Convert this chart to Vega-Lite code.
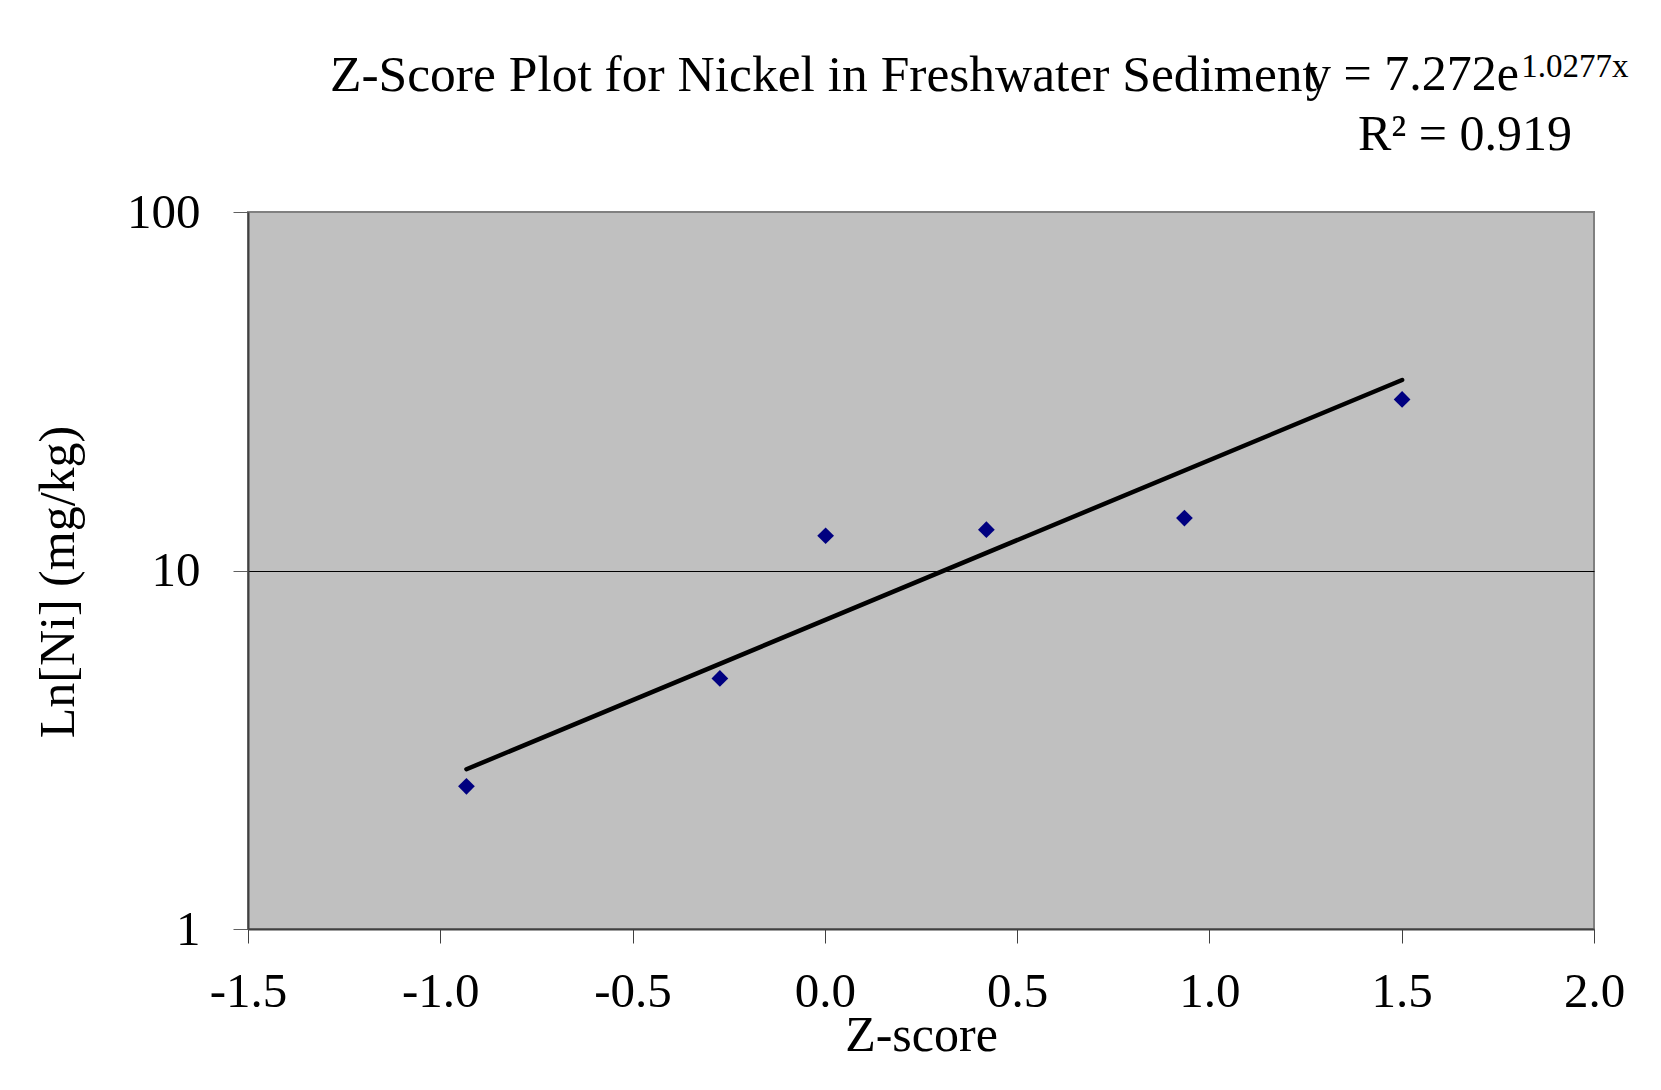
{
  "$schema": "https://vega.github.io/schema/vega-lite/v6.json",
  "width": 1346,
  "height": 717,
  "autosize": {"type": "none"},
  "padding": {"left": 248, "top": 212, "right": 67, "bottom": 161},
  "background": "white",
  "title": {
    "text": "Z-Score Plot for Nickel in Freshwater Sediment",
    "anchor": "start",
    "frame": "group",
    "dx": 82,
    "offset": -92,
    "baseline": "alphabetic",
    "font": "Liberation Serif",
    "fontSize": 51.5,
    "fontWeight": "normal",
    "color": "black"
  },
  "datasets": {
    "points": [
      {"z": -0.932, "ni": 2.5},
      {"z": -0.273, "ni": 5.0},
      {"z": 0.002, "ni": 12.5},
      {"z": 0.42, "ni": 13.0},
      {"z": 0.935, "ni": 14.0},
      {"z": 1.501, "ni": 30.0}
    ],
    "trend": [
      {"z": -0.932, "ni": 2.79},
      {"z": 1.501, "ni": 34.0}
    ]
  },
  "layer": [
    {
      "data": {"name": "trend"},
      "mark": {"type": "line", "color": "black", "strokeWidth": 4.5, "strokeCap": "round"},
      "encoding": {
        "x": {
          "field": "z",
          "type": "quantitative",
          "scale": {"domain": [-1.5, 2], "nice": false, "zero": false},
          "axis": {
            "values": [-1.5, -1, -0.5, 0, 0.5, 1, 1.5, 2],
            "labelExpr": "replace(format(datum.value, '.1f'), '\u2212', '-')",
            "title": "Z-score",
            "grid": false,
            "tickSize": 14,
            "tickColor": "#404040",
            "tickWidth": 1,
            "domainColor": "#404040",
            "domainWidth": 2,
            "labelPadding": 63.5,
            "labelBaseline": "alphabetic",
            "labelFlush": false,
            "labelOverlap": false,
            "titleY": 121,
            "titleBaseline": "alphabetic"
          }
        },
        "y": {
          "field": "ni",
          "type": "quantitative",
          "scale": {"type": "log", "domain": [1, 100], "nice": false},
          "axis": {
            "values": [1, 10, 100],
            "labelExpr": "format(datum.value, 'd')",
            "title": "Ln[Ni] (mg/kg)",
            "grid": true,
            "gridColor": "black",
            "gridWidth": 1,
            "gridOpacity": {"condition": {"test": "datum.value == 10", "value": 1}, "value": 0},
            "tickSize": 15,
            "tickColor": "#606060",
            "tickWidth": 1,
            "domainColor": "#404040",
            "domainWidth": 2,
            "labelPadding": 33,
            "labelFlush": false,
            "labelOverlap": false,
            "titleX": -175,
            "titleY": 369.5,
            "titleBaseline": "alphabetic"
          }
        }
      }
    },
    {
      "data": {"name": "points"},
      "mark": {"type": "point", "shape": "diamond", "filled": true, "size": 280, "color": "#000080", "opacity": 1},
      "encoding": {
        "x": {"field": "z", "type": "quantitative"},
        "y": {"field": "ni", "type": "quantitative"}
      }
    },
    {
      "data": {"values": [{"label": "y = 7.272e"}]},
      "mark": {"type": "text", "font": "Liberation Serif", "fontSize": 50, "align": "left", "baseline": "alphabetic", "color": "black"},
      "encoding": {
        "x": {"datum": 1.2511, "type": "quantitative"},
        "y": {"datum": 218.9, "type": "quantitative"},
        "text": {"field": "label"}
      }
    },
    {
      "data": {"values": [{"label": "1.0277x"}]},
      "mark": {"type": "text", "font": "Liberation Serif", "fontSize": 33, "align": "left", "baseline": "alphabetic", "color": "black"},
      "encoding": {
        "x": {"datum": 1.8106, "type": "quantitative"},
        "y": {"datum": 238, "type": "quantitative"},
        "text": {"field": "label"}
      }
    },
    {
      "data": {"values": [{"label": "R\u00b2 = 0.919"}]},
      "mark": {"type": "text", "font": "Liberation Serif", "fontSize": 50, "align": "left", "baseline": "alphabetic", "color": "black"},
      "encoding": {
        "x": {"datum": 1.3863, "type": "quantitative"},
        "y": {"datum": 148.9, "type": "quantitative"},
        "text": {"field": "label"}
      }
    }
  ],
  "config": {
    "view": {"fill": "#c0c0c0", "stroke": "#808080", "strokeWidth": 2},
    "axis": {
      "labelFont": "Liberation Serif",
      "labelFontSize": 49,
      "labelColor": "black",
      "titleFont": "Liberation Serif",
      "titleFontSize": 50,
      "titleFontWeight": "normal",
      "titleColor": "black"
    }
  }
}
